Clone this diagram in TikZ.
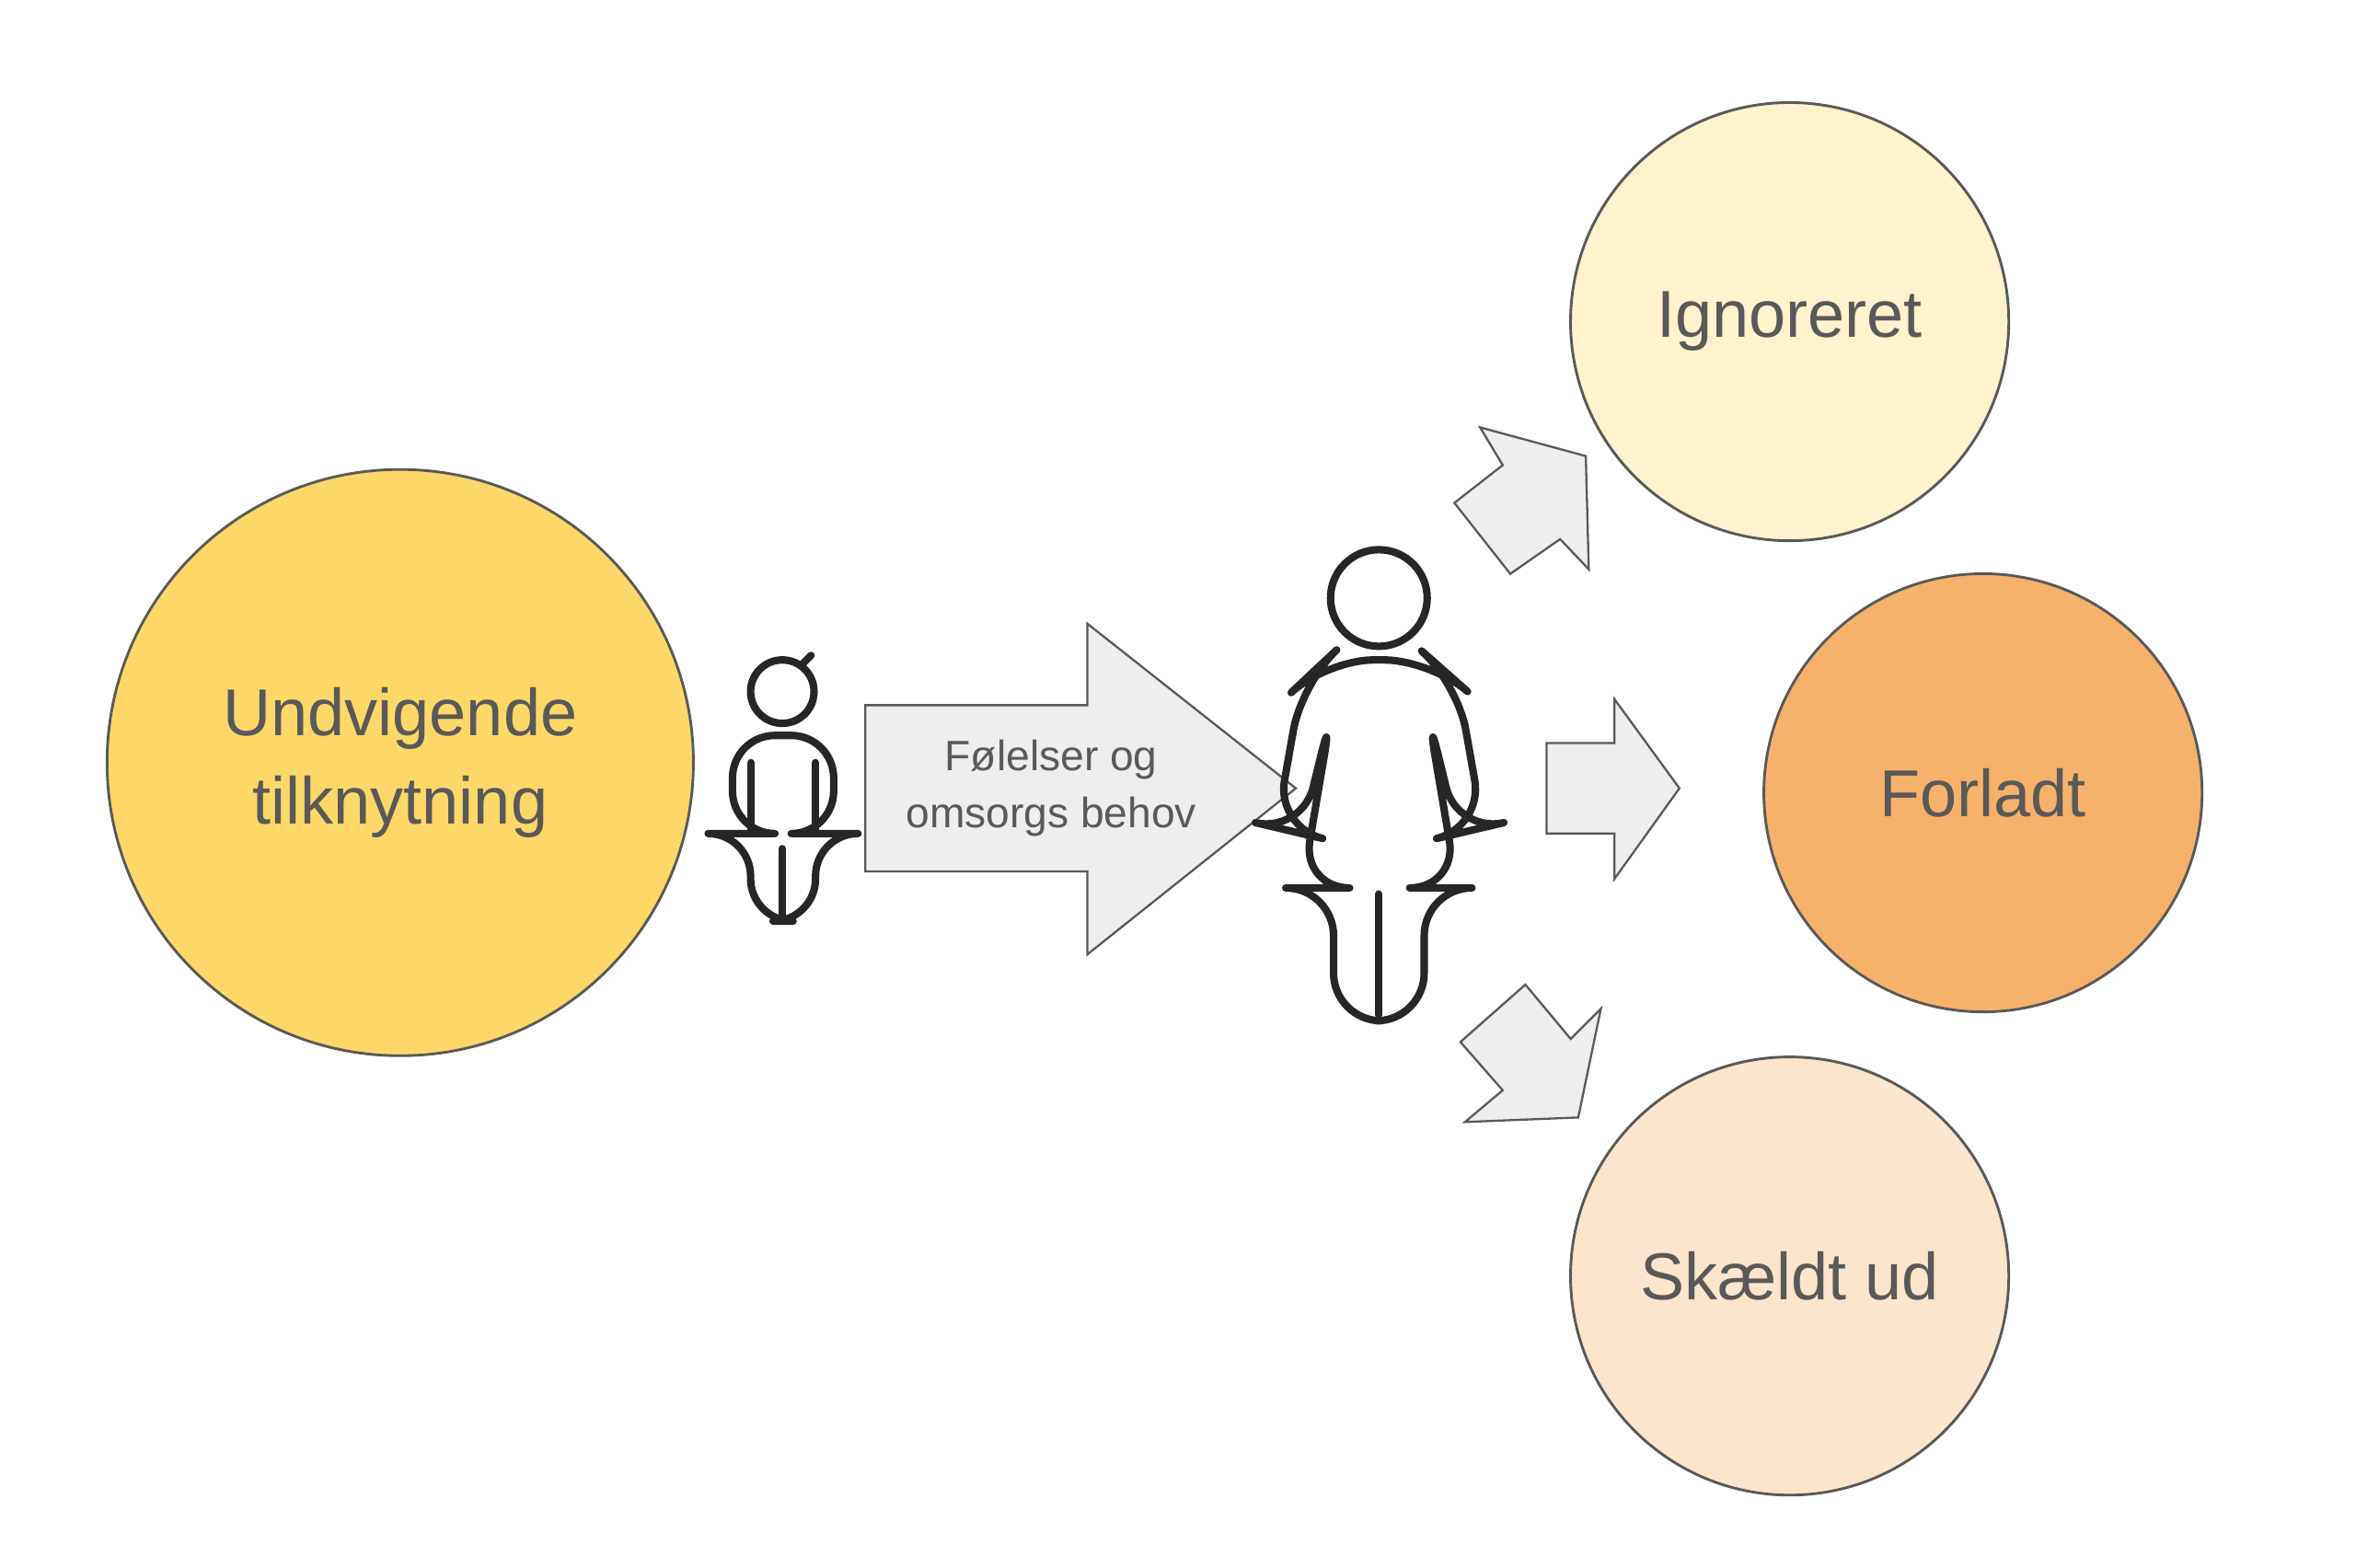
\documentclass[tikz,border=0pt]{standalone}
\usepackage{fontspec}
\setmainfont{Liberation Sans}
\definecolor{txt}{HTML}{595959}
\definecolor{edgegray}{HTML}{595959}
\definecolor{yellowA}{HTML}{FDD868}
\definecolor{yellowB}{HTML}{FFF2CC}
\definecolor{orangeA}{HTML}{F6B26B}
\definecolor{orangeB}{HTML}{FCE5CD}
\definecolor{arrowfill}{HTML}{EEEEEE}
\begin{document}
\begin{tikzpicture}[x=0.01cm,y=-0.01cm]

\tikzset{bubble/.style = {shape=circle,draw=edgegray,line width=0.5pt,inner sep=0pt,text=txt,align=center,font=\fontsize{12.5}{16.5}\selectfont}}
\tikzset{bigarrow/.style = {draw=edgegray,fill=arrowfill,line width=0.4pt}}
\tikzset{person/.style = {draw=black!85,line width=1.4pt,line join=round,line cap=round}}
\useasboundingbox (0,0) rectangle (1560,1038);
%circles
\node[bubble, fill=yellowA, minimum size=3.88cm] (attach) at (265,505) {Undvigende\\tilknytning};
\node[bubble, fill=yellowB, minimum size=2.9cm] (ignored) at (1185,213) {Ignoreret};
\node[bubble, fill=orangeA, minimum size=2.9cm] (left) at (1313,525) {Forladt};
\node[bubble, fill=orangeB, minimum size=2.9cm] (scold) at (1185,845) {Skældt ud};
%arrows
\draw[bigarrow] (573,467) -- (720,467) -- (720,413) -- (858,522) -- (720,632) -- (720,577) -- (573,577) -- cycle;
\node[text=txt, align=center, font=\fontsize{8}{10.8}\selectfont] (needs) at (696,522) {Følelser og\\omsorgs behov};
\draw[bigarrow] (1024,492) -- (1069,492) -- (1069,463) -- (1112,522) -- (1069,582) -- (1069,552) -- (1024,552) -- cycle;
\draw[bigarrow] (963,333) -- (995,308) -- (980,283) -- (1050,302) -- (1052,377) -- (1033,357) -- (1000,380) -- cycle;
\draw[bigarrow] (967,690) -- (1010,652) -- (1040,688) -- (1060,668) -- (1045,740) -- (970,743) -- (995,722) -- cycle;
%child
\draw[person] (518,458) circle (21);
\draw[person] (531,440) -- (537,434);
\draw[person, rounded corners=8] (497,552) -- (485,552) -- (485,487) -- (552,487) -- (552,552) -- (540,552) -- (540,610) -- (497,610) -- cycle;
\draw[person] (497,505) -- (497,552) (540,505) -- (540,552) (518,562) -- (518,610);
%mother
\draw[person] (913,396) circle (32);
\draw[person, rounded corners=9] (845,548) -- (862,452) -- (878,437) -- (948,437) -- (965,452) -- (982,548) -- (965,552) -- (945,470) -- (965,588) -- (943,588) -- (943,676) -- (883,676) -- (883,588) -- (862,588) -- (882,470) -- (862,552) -- cycle;
\draw[person] (913,592) -- (913,672);

\end{tikzpicture}
\end{document}
